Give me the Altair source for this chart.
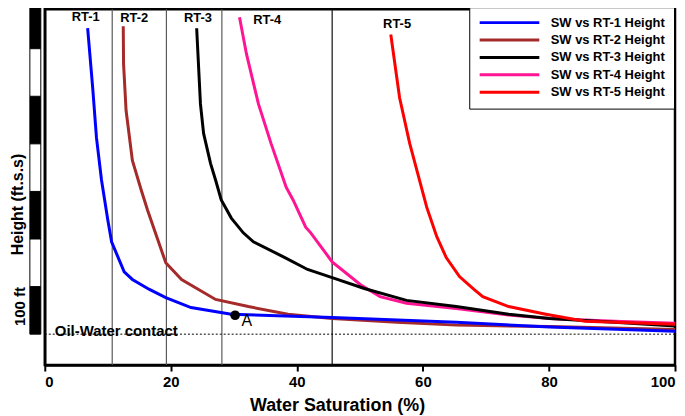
import altair as alt
import pandas as pd

FONT = "Liberation Sans"

series_names = ["SW vs RT-1 Height", "SW vs RT-2 Height", "SW vs RT-3 Height",
                "SW vs RT-4 Height", "SW vs RT-5 Height"]
series_colors = ["#0000ff", "#a52a2a", "#000000", "#ff1493", "#ff0000"]

rt1_sw = [6.8, 7.6, 8.2, 9.0, 9.5, 10.0, 10.6, 12.6, 13.9, 16.6, 19.2, 23.2, 29.6, 45.6, 65.3, 80.1, 100]
rt1_h = [643, 518, 413, 324, 282, 240, 194, 131, 115, 94, 77, 56, 42, 35, 25, 15, 6]

rt2_sw = [12.45, 12.5, 12.9, 13.9, 15.3, 16.3, 19.2, 21.7, 24.4, 27.1, 32.3, 38.6, 45.6, 55.9, 65.3, 80.1, 100]
rt2_h = [647, 568, 470, 365, 303, 261, 150, 115, 94, 73, 58, 42, 33, 25, 19, 16, 10]

rt3_sw = [24.1, 24.7, 25.2, 26.3, 27.1, 28.0, 29.6, 31.5, 33.1, 38.1, 41.7, 45.6, 50.7, 57.4, 65.3, 73.6, 80.1, 90.4, 100]
rt3_h = [643, 484, 422, 359, 324, 282, 244, 213, 194, 161, 136, 119, 96, 71, 58, 42, 33, 25, 17]

rt4_sw = [30.9, 32.0, 33.9, 35.9, 38.3, 39.4, 41.4, 42.2, 45.6, 50.1, 53.2, 57.4, 65.3, 73.6, 80.1, 90.4, 100]
rt4_h = [666, 589, 484, 401, 309, 282, 225, 213, 152, 104, 79, 65, 54, 40, 33, 27, 23]

rt5_sw = [54.9, 56.3, 57.9, 60.6, 62.2, 63.7, 65.8, 68.1, 69.5, 73.6, 79.5, 85.7, 100]
rt5_h = [630, 497, 401, 267, 205, 161, 121, 94, 79, 58, 42, 27, 21]

rt_labels = ["RT-1", "RT-2", "RT-3", "RT-4", "RT-5"]
rt_label_sw = [6.5, 14.2, 24.3, 35.3, 55.9]
rt_label_h = [666, 664, 664, 660, 651]

gray_lines_sw = [10.7, 19.3, 28.1]
black_lines_sw = [45.6]

owc_h = [0]
owc_label = ["Oil-Water contact"]
owc_label_sw = [1.6]
owc_label_h = [-4]

point_a_sw = [30.2]
point_a_h = [39.7]
point_a_label = ["A"]
point_a_label_sw = [31.2]
point_a_label_h = [16.7]

ruler_black_bottoms = [0, 200, 400, 600]
ruler_white_bottoms = [100, 300, 500]
ruler_step = 100
ruler_label = ["100 ft"]
ruler_label_h = [58]

x_ticks = [0, 20, 40, 60, 80, 100]

# ---- tables ----
all_series = [(rt2_sw, rt2_h, 1), (rt4_sw, rt4_h, 3), (rt3_sw, rt3_h, 2),
              (rt5_sw, rt5_h, 4), (rt1_sw, rt1_h, 0)]
rows = []
for xs, ys, k in all_series:
    for i, (xv, yv) in enumerate(zip(xs, ys)):
        rows.append({"sw": xv, "h": yv, "series": series_names[k], "idx": i})
df = pd.DataFrame(rows)

x_scale = alt.Scale(domain=[0, 100], nice=False, zero=False)
y_scale = alt.Scale(domain=[-65, 683], nice=False, zero=False)

x_axis = alt.Axis(values=x_ticks, format="d", grid=False,
                  title="Water Saturation (%)", titleFontSize=18, titleFontWeight="bold",
                  titleX=294, titleY=46, titleAlign="center", titleBaseline="alphabetic",
                  titleColor="black",
                  labelFontSize=15, labelFontWeight="bold", labelColor="black", labelPadding=4,
                  tickSize=6, tickWidth=2, tickColor="black",
                  domainColor="black", domainWidth=2.5)
y_axis = alt.Axis(labels=False, ticks=False, grid=False,
                  domainColor="black", domainWidth=2.5,
                  title="Height (ft.s.s)", titleFontSize=16, titleFontWeight="bold",
                  titleColor="black", titleX=-27, titleY=196, titleAngle=270,
                  titleAlign="center", titleBaseline="middle")

# long horizontal line symbol drawn with a small symbol size (keeps rows compact)
legend_line_path = "M-1,0H11"

lines = alt.Chart(df).mark_line(strokeWidth=3).encode(
    x=alt.X("sw:Q", scale=x_scale, axis=x_axis),
    y=alt.Y("h:Q", scale=y_scale, axis=y_axis),
    color=alt.Color("series:N",
                    scale=alt.Scale(domain=series_names, range=series_colors),
                    legend=alt.Legend(title=None, orient="none", legendX=427, legendY=-2,
                                      symbolType=legend_line_path, symbolSize=100,
                                      symbolStrokeWidth=3,
                                      labelFontSize=13, labelFontWeight="bold",
                                      labelColor="black", labelOffset=60, labelLimit=0,
                                      strokeColor="black", fillColor="white",
                                      padding=9, rowPadding=3.5)),
    order=alt.Order("idx:Q"),
)

gray_rules = alt.Chart(pd.DataFrame({"sw": gray_lines_sw})).mark_rule(
    color="#5a5a5a", strokeWidth=1.2).encode(x=alt.X("sw:Q", scale=x_scale))
black_rules = alt.Chart(pd.DataFrame({"sw": black_lines_sw})).mark_rule(
    color="#111111", strokeWidth=1.2).encode(x=alt.X("sw:Q", scale=x_scale))

owc_rule = alt.Chart(pd.DataFrame({"h": owc_h})).mark_rule(
    color="black", strokeWidth=1, strokeDash=[2, 2]).encode(y=alt.Y("h:Q", scale=y_scale))

owc_text = alt.Chart(pd.DataFrame({"sw": owc_label_sw, "h": owc_label_h, "t": owc_label})).mark_text(
    align="left", baseline="alphabetic", fontSize=15, fontWeight="bold", color="black").encode(
    x=alt.X("sw:Q", scale=x_scale), y=alt.Y("h:Q", scale=y_scale), text="t:N")

rt_text = alt.Chart(pd.DataFrame({"sw": rt_label_sw, "h": rt_label_h, "t": rt_labels})).mark_text(
    align="center", baseline="middle", fontSize=13, fontWeight="bold", color="black").encode(
    x=alt.X("sw:Q", scale=x_scale), y=alt.Y("h:Q", scale=y_scale), text="t:N")

pt_a = alt.Chart(pd.DataFrame({"sw": point_a_sw, "h": point_a_h})).mark_circle(
    size=95, color="black", opacity=1).encode(
    x=alt.X("sw:Q", scale=x_scale), y=alt.Y("h:Q", scale=y_scale))

pt_a_text = alt.Chart(pd.DataFrame({"sw": point_a_label_sw, "h": point_a_label_h, "t": point_a_label})).mark_text(
    align="left", baseline="alphabetic", fontSize=16, color="black").encode(
    x=alt.X("sw:Q", scale=x_scale), y=alt.Y("h:Q", scale=y_scale), text="t:N")

ruler_black = alt.Chart(pd.DataFrame({"b": ruler_black_bottoms})).transform_calculate(
    t=f"datum.b + {ruler_step}").mark_rect(
    fill="black", stroke="black", strokeWidth=1, clip=False).encode(
    x=alt.value(-15), x2=alt.value(-4),
    y=alt.Y("b:Q", scale=y_scale), y2="t:Q")
ruler_white = alt.Chart(pd.DataFrame({"b": ruler_white_bottoms})).transform_calculate(
    t=f"datum.b + {ruler_step}").mark_rect(
    fill="white", stroke="black", strokeWidth=1, clip=False).encode(
    x=alt.value(-15), x2=alt.value(-4),
    y=alt.Y("b:Q", scale=y_scale), y2="t:Q")

ruler_text = alt.Chart(pd.DataFrame({"h": ruler_label_h, "t": ruler_label})).mark_text(
    angle=270, align="center", baseline="middle", fontSize=15, fontWeight="bold", color="black").encode(
    x=alt.value(-25), y=alt.Y("h:Q", scale=y_scale), text="t:N")

chart = alt.layer(
    gray_rules, black_rules, owc_rule, owc_text, lines, rt_text, pt_a, pt_a_text,
    ruler_black, ruler_white, ruler_text,
).properties(
    width=634, height=358,
    padding={"left": 37, "top": 0, "right": 2, "bottom": 50},
    autosize=alt.AutoSizeParams(type="none"),
).configure(font=FONT).configure_view(stroke="black", strokeWidth=2.5)

chart.save("out.html", embed_options={"renderer": "svg", "actions": False})
